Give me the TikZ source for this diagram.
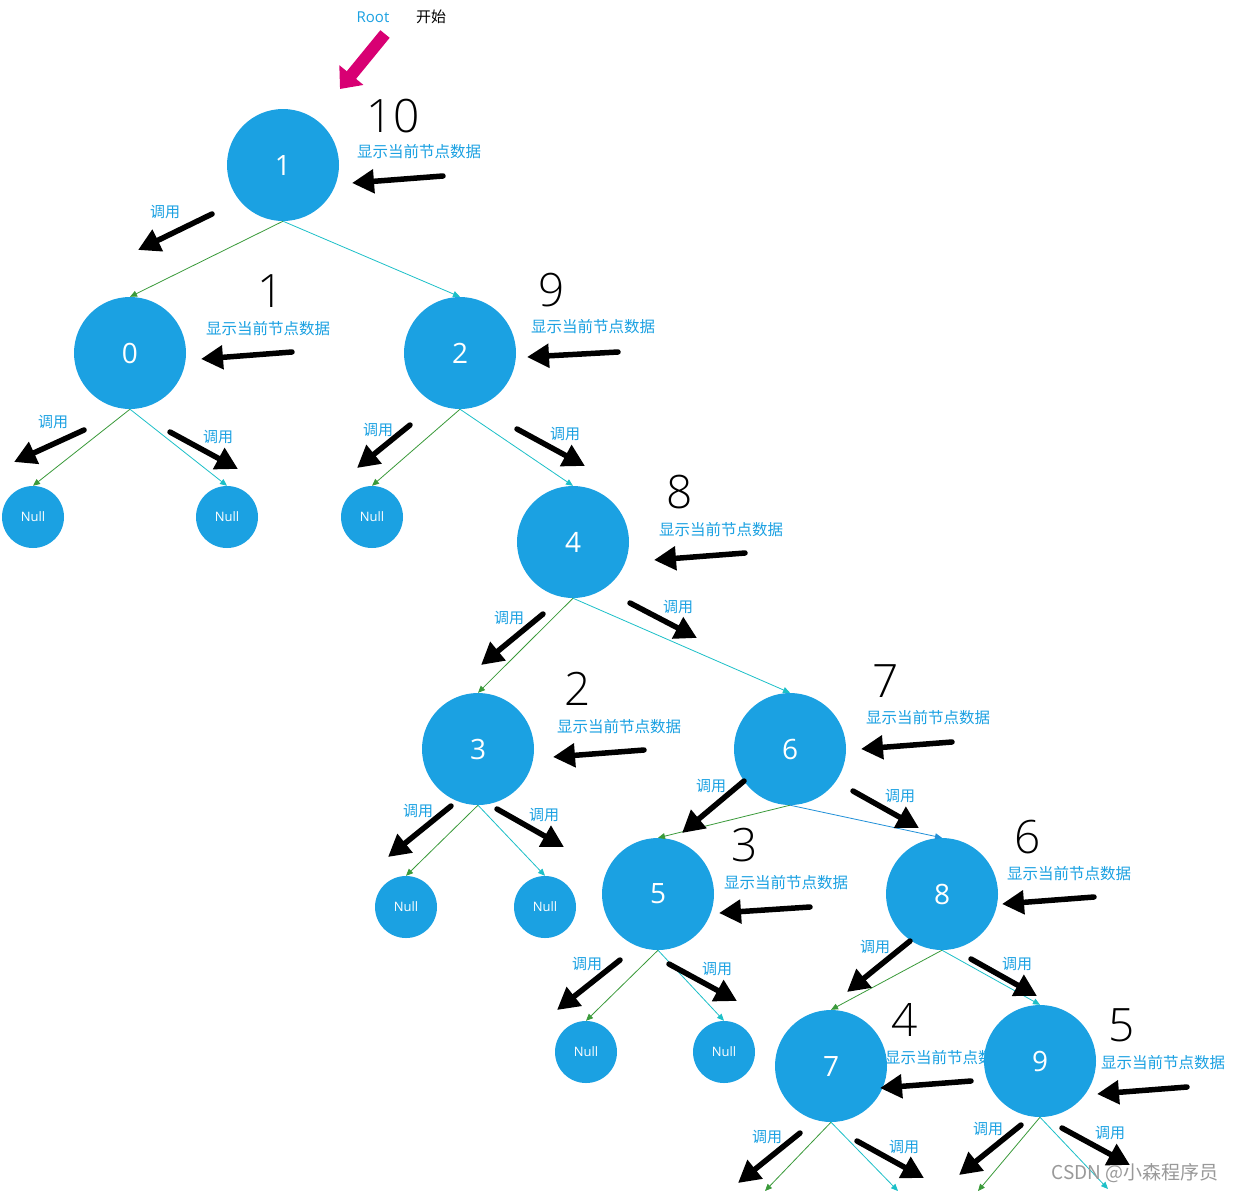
\documentclass[tikz,border=0pt]{standalone}
\usepackage{fontspec}
\setmainfont{Open Sans}
\newfontfamily\cjk{Noto Sans CJK SC}
\newfontfamily\numfont{Open Sans Light}
\usetikzlibrary{arrows.meta}
\definecolor{nodeblue}{HTML}{1BA1E2}
\definecolor{txtblue}{HTML}{1BA1E2}
\definecolor{edgegreen}{HTML}{3A9A3A}
\definecolor{edgecyan}{HTML}{1CC0C8}
\definecolor{edgeblue}{HTML}{2090D8}
\definecolor{rootpink}{HTML}{D80073}
\tikzset{
  bignode/.style={circle, fill=nodeblue, minimum size=112pt, inner sep=0pt, text=white, font=\fontsize{28}{28}\selectfont},
  nullnode/.style={circle, fill=nodeblue, minimum size=62pt, inner sep=0pt, text=white, font=\fontsize{13}{13}\selectfont},
  edgeL/.style={edgegreen, line width=0.8pt, -{Triangle[length=7pt,width=6pt]}},
  edgeR/.style={edgecyan, line width=0.8pt, -{Triangle[length=7pt,width=6pt]}},
  edgeB/.style={edgeblue, line width=0.8pt, -{Triangle[length=7pt,width=6pt]}},
  blackarrow/.style={black, line width=5.5pt, line cap=round, -{Triangle[length=22pt,width=23pt]}},
  numlabel/.style={font=\numfont\fontsize{46}{46}\selectfont, inner sep=0pt},
  showlabel/.style={font=\cjk\fontsize{15.5}{15.5}\selectfont, text=txtblue, inner sep=0pt},
  calllabel/.style={font=\cjk\fontsize{15}{15}\selectfont, text=txtblue, inner sep=0pt},
}
\begin{document}
\begin{tikzpicture}[x=1pt,y=-1pt]
\useasboundingbox (0,0) rectangle (1236,1192);
\fill[white] (0,0) rectangle (1236,1192);

% node positions
\coordinate (p1) at (283,165);
\coordinate (p0) at (130,353);
\coordinate (p2) at (460,353);
\coordinate (pa) at (33,517);
\coordinate (pb) at (227,517);
\coordinate (pc) at (372,517);
\coordinate (p4) at (573,542);
\coordinate (p3) at (478,749);
\coordinate (p6) at (790,749);
\coordinate (pd) at (406,907);
\coordinate (pe) at (545,907);
\coordinate (p5) at (658,894);
\coordinate (p8) at (942,894);
\coordinate (pf) at (586,1052);
\coordinate (pg) at (724,1052);
\coordinate (p7) at (831,1066);
\coordinate (p9) at (1040,1061);
\coordinate (e7l) at (765,1191);
\coordinate (e7r) at (898,1191);
\coordinate (e9l) at (978,1191);
\coordinate (e9r) at (1108,1189);

% labels (drawn before circles)
\node[showlabel] (s1) at (419,152) {显示当前节点数据};
\node[showlabel] (s0) at (268,329) {显示当前节点数据};
\node[showlabel] (s2) at (593,327) {显示当前节点数据};
\node[showlabel] (s4) at (721,530) {显示当前节点数据};
\node[showlabel] (s3) at (619,727) {显示当前节点数据};
\node[showlabel] (s6) at (928,718) {显示当前节点数据};
\node[showlabel] (s5) at (786,883) {显示当前节点数据};
\node[showlabel] (s8) at (1069,874) {显示当前节点数据};
\node[showlabel] (s7) at (947,1058) {显示当前节点数据};
\node[showlabel] (s9) at (1163,1063) {显示当前节点数据};

\node[numlabel] (c1) at (393,116) {10};
\node[numlabel] (c0) at (271,291) {1};
\node[numlabel] (c2) at (552,290) {9};
\node[numlabel] (c4) at (680,492) {8};
\node[numlabel] (c3) at (578,689) {2};
\node[numlabel] (c6) at (886,681) {7};
\node[numlabel] (c5) at (745,845) {3};
\node[numlabel] (c8) at (1028,837) {6};
\node[numlabel] (c7) at (905,1020) {4};
\node[numlabel] (c9) at (1122,1025) {5};

\node[calllabel] (u1l) at (165,212) {调用};
\node[calllabel] (u0l) at (53,422) {调用};
\node[calllabel] (u0r) at (218,437) {调用};
\node[calllabel] (u2l) at (378,430) {调用};
\node[calllabel] (u2r) at (565,434) {调用};
\node[calllabel] (u4l) at (509,618) {调用};
\node[calllabel] (u4r) at (678,607) {调用};
\node[calllabel] (u3l) at (418,811) {调用};
\node[calllabel] (u3r) at (544,815) {调用};
\node[calllabel] (u6l) at (711,786) {调用};
\node[calllabel] (u6r) at (900,796) {调用};
\node[calllabel] (u5l) at (587,964) {调用};
\node[calllabel] (u5r) at (717,969) {调用};
\node[calllabel] (u8l) at (875,947) {调用};
\node[calllabel] (u8r) at (1017,964) {调用};
\node[calllabel] (u7l) at (767,1137) {调用};
\node[calllabel] (u7r) at (904,1147) {调用};
\node[calllabel] (u9l) at (988,1129) {调用};
\node[calllabel] (u9r) at (1110,1133) {调用};

% circles
\node[bignode] (n1) at (p1) {1};
\node[bignode] (n0) at (p0) {0};
\node[bignode] (n2) at (p2) {2};
\node[nullnode] (na) at (pa) {Null};
\node[nullnode] (nb) at (pb) {Null};
\node[nullnode] (nc) at (pc) {Null};
\node[bignode] (n4) at (p4) {4};
\node[bignode] (n3) at (p3) {3};
\node[bignode] (n6) at (p6) {6};
\node[nullnode] (nd) at (pd) {Null};
\node[nullnode] (ne) at (pe) {Null};
\node[bignode] (n5) at (p5) {5};
\node[bignode] (n8) at (p8) {8};
\node[nullnode] (nf) at (pf) {Null};
\node[nullnode] (ng) at (pg) {Null};
\node[bignode] (n7) at (p7) {7};
\node[bignode] (n9) at (p9) {9};

% tree edges
\draw[edgeL] (n1.south) -- (n0.north);
\draw[edgeR] (n1.south) -- (n2.north);
\draw[edgeL] (n0.south) -- (na.north);
\draw[edgeR] (n0.south) -- (nb.north);
\draw[edgeL] (n2.south) -- (nc.north);
\draw[edgeR] (n2.south) -- (n4.north);
\draw[edgeL] (n4.south) -- (n3.north);
\draw[edgeR] (n4.south) -- (n6.north);
\draw[edgeL] (n3.south) -- (nd.north);
\draw[edgeR] (n3.south) -- (ne.north);
\draw[edgeL] (n6.south) -- (n5.north);
\draw[edgeB] (n6.south) -- (n8.north);
\draw[edgeL] (n5.south) -- (nf.north);
\draw[edgeR] (n5.south) -- (ng.north);
\draw[edgeL] (n8.south) -- (n7.north);
\draw[edgeR] (n8.south) -- (n9.north);
\draw[edgeL] (n7.south) -- (e7l);
\draw[edgeR] (n7.south) -- (e7r);
\draw[edgeL] (n9.south) -- (e9l);
\draw[edgeR] (n9.south) -- (e9r);

% "show data" arrows
\draw[blackarrow] (443,176) -- (352,183);
\draw[blackarrow] (292,352) -- (201,359);
\draw[blackarrow] (618,352) -- (527,357);
\draw[blackarrow] (745,553) -- (654,560);
\draw[blackarrow] (644,750) -- (553,757);
\draw[blackarrow] (952,742) -- (861,749);
\draw[blackarrow] (810,907) -- (719,913);
\draw[blackarrow] (1094,897) -- (1002,904);
\draw[blackarrow] (971,1081) -- (880,1088);
\draw[blackarrow] (1187,1087) -- (1097,1094);

% "call" arrows
\draw[blackarrow] (212,214) -- (138,250);
\draw[blackarrow] (84,430) -- (14,462);
\draw[blackarrow] (170,432) -- (238,469);
\draw[blackarrow] (410,425) -- (357,468);
\draw[blackarrow] (517,429) -- (585,466);
\draw[blackarrow] (543,614) -- (481,665);
\draw[blackarrow] (630,603) -- (697,638);
\draw[blackarrow] (451,806) -- (388,857);
\draw[blackarrow] (497,809) -- (564,847);
\draw[blackarrow] (744,781) -- (682,833);
\draw[blackarrow] (853,791) -- (919,828);
\draw[blackarrow] (620,960) -- (557,1010);
\draw[blackarrow] (669,964) -- (737,1001);
\draw[blackarrow] (910,941) -- (847,992);
\draw[blackarrow] (971,959) -- (1037,996);
\draw[blackarrow] (800,1133) -- (738,1183);
\draw[blackarrow] (857,1141) -- (924,1178);
\draw[blackarrow] (1021,1125) -- (959,1175);
\draw[blackarrow] (1062,1128) -- (1130,1165);

% root marker
\node[font=\fontsize{15}{15}\selectfont, text=txtblue, inner sep=0pt] (root) at (373,17) {Root};
\node[font=\cjk\fontsize{15}{15}\selectfont, inner sep=0pt] (start) at (431,17) {开始};
\draw[rootpink, line width=12pt, -{Triangle[length=18pt,width=30pt]}] (385,34) -- (340,89);

% watermark
\node[font=\cjk\fontsize{19}{19}\selectfont, text=black!40, inner sep=0pt] (wm) at (1135,1173) {CSDN @小森程序员};
\end{tikzpicture}
\end{document}
